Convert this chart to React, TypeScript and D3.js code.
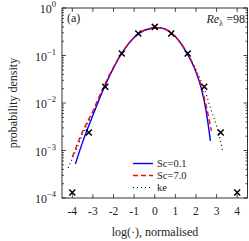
import * as d3 from "d3";

// gaussian reference (crosses)
const refX = [-4, -3.2, -2.4, -1.6, -0.8, 0, 0.8, 1.6, 2.4, 3.2, 4];
const refY = [1.3e-4, 2.4e-3, 0.022, 0.11, 0.29, 0.4, 0.29, 0.11, 0.022, 2.4e-3, 1.3e-4];

// Sc=0.1
const sc01X = [-3.85, -3.5, -3.0, -2.5, -2.0, -1.5, -1.0, -0.5, 0, 0.25, 0.5, 1.0, 1.5, 2.0, 2.25, 2.5, 2.7];
const sc01Y = [5.2e-4, 1.5e-3, 5.5e-3, 0.019, 0.055, 0.13, 0.24, 0.34, 0.38, 0.382, 0.36, 0.25, 0.125, 0.045, 0.021, 6.5e-3, 1.6e-3];

// Sc=7.0
const sc7X = [-4.0, -3.5, -3.0, -2.5, -2.0, -1.5, -1.0, -0.5, 0, 0.25, 0.5, 1.0, 1.5, 2.0, 2.25, 2.5, 2.75];
const sc7Y = [7.3e-4, 2.5e-3, 6.8e-3, 0.021, 0.057, 0.13, 0.24, 0.34, 0.38, 0.382, 0.36, 0.25, 0.127, 0.047, 0.023, 8.5e-3, 2.6e-3];

// ke
const keX = [-4.2, -3.75, -3.5, -3.0, -2.5, -2.0, -1.5, -1.0, -0.5, 0, 0.25, 0.5, 1.0, 1.5, 2.0, 2.5, 2.75, 3.0, 3.25, 3.3];
const keY = [4.3e-4, 1.2e-3, 2.2e-3, 6.3e-3, 0.02, 0.056, 0.13, 0.24, 0.34, 0.38, 0.382, 0.36, 0.25, 0.128, 0.05, 0.015, 6.8e-3, 3.3e-3, 1.2e-3, 9e-4];

const xTicks = [-4, -3, -2, -1, 0, 1, 2, 3, 4];
const yExps = [0, -1, -2, -3, -4];
const legendNames = ["Sc=0.1", "Sc=7.0", "ke"];

const W = 249, H = 241;
const margin = { left: 62, right: 1.5, top: 8, bottom: 43 };

const App = () => {
  const x = d3.scaleLinear().domain([-4.5, 4.5]).range([margin.left, W - margin.right]);
  const y = d3.scaleLog().domain([1e-4, 1]).range([H - margin.bottom, margin.top]);

  const line = (xs: number[], ys: number[]) =>
    d3.line<number>()
      .x((_, i) => x(xs[i]))
      .y((d) => y(d))
      .curve(d3.curveMonotoneX)(ys) || "";

  const minor: number[] = [];
  for (let e = -4; e < 0; e++) {
    for (let k = 2; k <= 9; k++) minor.push(k * Math.pow(10, e));
  }

  const x0 = margin.left, x1 = W - margin.right;
  const y0 = H - margin.bottom, y1 = margin.top;
  const font = "'Liberation Serif', 'DejaVu Serif', serif";

  // legend styles
  const styles = [
    { stroke: "#0000ff", width: 1.4, dash: undefined },
    { stroke: "#ff0000", width: 1.4, dash: "5 3" },
    { stroke: "#000", width: 1.1, dash: "1 3" },
  ];

  return (
    <svg width={W} height={H} style={{ position: "absolute", left: 0, top: 0, background: "#fff" }} fontFamily={font}>
      <g stroke="#000" strokeWidth={0.7}>
        {xTicks.map((t) => (
          <g key={"xt" + t}>
            <line x1={x(t)} x2={x(t)} y1={y0} y2={y0 - 4} />
            <line x1={x(t)} x2={x(t)} y1={y1} y2={y1 + 4} />
          </g>
        ))}
        {yExps.map((e) => (
          <g key={"yt" + e}>
            <line x1={x0} x2={x0 + 4} y1={y(Math.pow(10, e))} y2={y(Math.pow(10, e))} />
            <line x1={x1} x2={x1 - 4} y1={y(Math.pow(10, e))} y2={y(Math.pow(10, e))} />
          </g>
        ))}
        {minor.map((m, i) => (
          <g key={"ym" + i}>
            <line x1={x0} x2={x0 + 2} y1={y(m)} y2={y(m)} />
            <line x1={x1} x2={x1 - 2} y1={y(m)} y2={y(m)} />
          </g>
        ))}
      </g>

      <path d={line(keX, keY)} fill="none" stroke="#000" strokeWidth={1.1} strokeDasharray="1 3" />
      <path d={line(sc01X, sc01Y)} fill="none" stroke="#0000ff" strokeWidth={1.4} />
      <path d={line(sc7X, sc7Y)} fill="none" stroke="#ff0000" strokeWidth={1.4} strokeDasharray="5 3" />

      <g stroke="#000" strokeWidth={1.5}>
        {refX.map((v, i) => {
          const cx = x(v), cy = y(refY[i]), s = 3;
          return (
            <g key={"m" + i}>
              <line x1={cx - s} x2={cx + s} y1={cy - s} y2={cy + s} />
              <line x1={cx - s} x2={cx + s} y1={cy + s} y2={cy - s} />
            </g>
          );
        })}
      </g>

      <rect x={x0} y={y1} width={x1 - x0} height={y0 - y1} fill="none" stroke="#000" strokeWidth={0.8} />

      {xTicks.map((t) => (
        <text key={"xl" + t} x={x(t)} y={y0 + 17} textAnchor="middle" fontSize={11.5} fill="#222">
          {t < 0 ? "-" + Math.abs(t) : String(t)}
        </text>
      ))}
      {yExps.map((e) => (
        <text key={"yl" + e} x={x0 - 6} y={y(Math.pow(10, e)) + 5} textAnchor="end" fontSize={12} fill="#222">
          10<tspan dy={-6} fontSize={8.5}>{e === 0 ? "0" : "\u2212" + Math.abs(e)}</tspan>
        </text>
      ))}

      <text x={155} y={236} textAnchor="middle" fontSize={12} fill="#222">log(·), normalised</text>
      <text transform={`translate(17,${(y0 + y1) / 2}) rotate(-90)`} textAnchor="middle" fontSize={12} fill="#222">
        probability density
      </text>

      <text x={67} y={22} fontSize={12} fill="#222">(a)</text>
      <text x={245} y={23} textAnchor="end" fontSize={12} fill="#222">
        <tspan fontStyle="italic">Re</tspan>
        <tspan fontSize={8.5} dy={2.5}>λ</tspan>
        <tspan dy={-2.5}> =98</tspan>
      </text>

      <g>
        {legendNames.map((name, i) => {
          const ly = 163.5 + i * 12;
          const st = styles[i];
          return (
            <g key={name}>
              <line x1={133} x2={153} y1={ly} y2={ly} stroke={st.stroke} strokeWidth={st.width} strokeDasharray={st.dash} />
              <text x={157} y={ly + 3.5} fontSize={10.5} fill="#222">{name}</text>
            </g>
          );
        })}
      </g>
    </svg>
  );
};

export default App;
